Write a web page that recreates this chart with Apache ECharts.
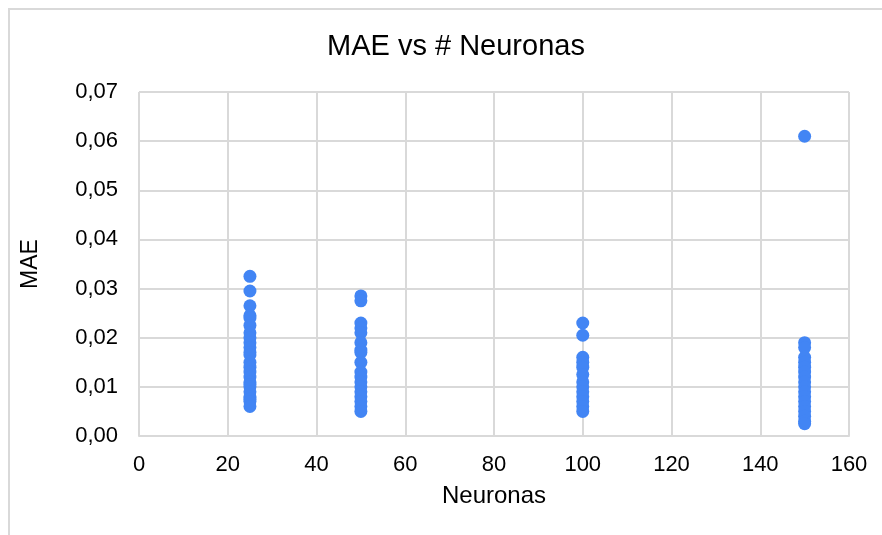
<!DOCTYPE html>
<html>
<head>
<meta charset="utf-8">
<script src="https://cdn.jsdelivr.net/npm/echarts@6/dist/echarts.min.js"></script>
<style>
  html, body { margin: 0; padding: 0; background: #fff; }
  #chart { width: 882px; height: 535px; }
</style>
</head>
<body>
<div id="chart"></div>
<script>
// datos: MAE por número de neuronas
var neurons25 = [0.0325, 0.0295, 0.0265, 0.0245, 0.024, 0.0225, 0.021, 0.02, 0.019, 0.018, 0.017, 0.0165, 0.015, 0.014, 0.013, 0.012, 0.011, 0.0105, 0.01, 0.009, 0.008, 0.0075, 0.007, 0.006];
var neurons50 = [0.0285, 0.0275, 0.023, 0.022, 0.021, 0.019, 0.0175, 0.017, 0.015, 0.013, 0.012, 0.011, 0.01, 0.009, 0.008, 0.007, 0.006, 0.005];
var neurons100 = [0.023, 0.0205, 0.016, 0.015, 0.014, 0.0125, 0.011, 0.01, 0.009, 0.008, 0.007, 0.006, 0.005];
var neurons150 = [0.061, 0.019, 0.018, 0.016, 0.015, 0.014, 0.013, 0.012, 0.011, 0.01, 0.009, 0.008, 0.007, 0.006, 0.005, 0.004, 0.003, 0.0025];
var groups = [25, 50, 100, 150];

(function () {
  var cols = [neurons25, neurons50, neurons100, neurons150]
  var points = []
  cols.forEach(function (list, i) {
    list.forEach(function (v) {
      points.push([groups[i], v])
    })
  })

  var font = 'Liberation Sans, Arial, sans-serif'
  var option = {
    animation: false,
    backgroundColor: '#fff',
    title: {
      text: 'MAE vs # Neuronas',
      left: 322,
      top: 27,
      textStyle: { fontFamily: font, fontWeight: 'normal', fontSize: 29, color: '#000' }
    },
    grid: { left: 139, right: 33, top: 92, bottom: 99 },
    xAxis: {
      type: 'value',
      min: 0,
      max: 160,
      interval: 20,
      name: 'Neuronas',
      nameLocation: 'middle',
      nameGap: 48,
      nameTextStyle: { fontFamily: font, fontSize: 24, color: '#000' },
      axisLine: { show: true, lineStyle: { color: '#d9d9d9', width: 2 } },
      axisTick: { show: false },
      axisLabel: { fontFamily: font, fontSize: 22, color: '#000', margin: 18 },
      splitLine: { show: true, lineStyle: { color: '#d9d9d9', width: 2 } }
    },
    yAxis: {
      type: 'value',
      min: 0,
      max: 0.07,
      interval: 0.01,
      name: 'MAE',
      nameLocation: 'middle',
      nameGap: 97,
      nameTextStyle: { fontFamily: font, fontSize: 23, color: '#000' },
      axisLine: { show: false },
      axisTick: { show: false },
      axisLabel: {
        fontFamily: font, fontSize: 22, color: '#000', margin: 21,
        formatter: function (v) { return v.toFixed(2).replace('.', ',') }
      },
      splitLine: { show: true, lineStyle: { color: '#d9d9d9', width: 2 } }
    },
    series: [{
      type: 'scatter',
      data: points,
      symbolSize: 13,
      itemStyle: { color: '#4285f4', opacity: 1 }
    }],
    graphic: [{
      type: 'polyline',
      shape: { points: [[9, 535], [9, 9], [882, 9]] },
      style: { stroke: '#d9d9d9', lineWidth: 2, fill: null }
    }]
  }
  var myChart = echarts.init(document.getElementById('chart'))
  myChart.setOption(option)
})();
</script>
</body>
</html>
